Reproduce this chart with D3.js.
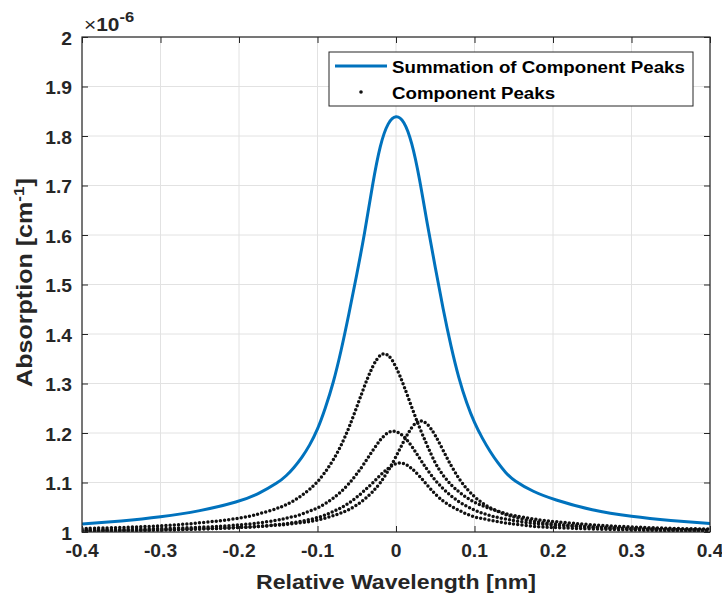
<!DOCTYPE html>
<html><head><meta charset="utf-8">
<script src="https://cdn.jsdelivr.net/npm/d3@7"></script>
<style>body{margin:0;background:#fff;}svg{display:block;}</style>
</head><body>
<svg id="chart" width="722" height="601"></svg>
<script>
// ---- data (values ×1e-6 cm^-1) ----
const wavelength = [-0.4,-0.35,-0.3,-0.25,-0.2,-0.175,-0.15,-0.14,-0.13,-0.12,-0.11,-0.1,-0.09,-0.08,-0.07,-0.06,-0.05,-0.04,-0.03,-0.02,-0.01,0,0.01,0.02,0.03,0.04,0.05,0.06,0.07,0.08,0.09,0.1,0.11,0.12,0.13,0.14,0.15,0.175,0.2,0.25,0.3,0.35,0.4];
const summation = [1.016,1.022,1.030,1.042,1.061,1.077,1.100,1.113,1.130,1.150,1.175,1.206,1.250,1.300,1.365,1.440,1.520,1.602,1.702,1.785,1.829,1.843,1.832,1.790,1.715,1.620,1.535,1.450,1.375,1.310,1.260,1.220,1.189,1.162,1.139,1.119,1.104,1.081,1.066,1.043,1.031,1.023,1.017];
const peakA = [1.007,1.009,1.012,1.018,1.027,1.036,1.048,1.055,1.063,1.074,1.086,1.101,1.121,1.145,1.174,1.210,1.252,1.296,1.335,1.361,1.361,1.335,1.296,1.252,1.210,1.174,1.138,1.114,1.095,1.081,1.069,1.060,1.053,1.047,1.042,1.037,1.033,1.026,1.021,1.014,1.010,1.007,1.006];
const peakB = [1.004,1.005,1.007,1.009,1.014,1.018,1.024,1.028,1.031,1.036,1.042,1.048,1.057,1.068,1.081,1.097,1.117,1.139,1.164,1.187,1.203,1.205,1.194,1.174,1.149,1.125,1.104,1.087,1.073,1.061,1.052,1.044,1.038,1.033,1.029,1.026,1.023,1.017,1.014,1.009,1.006,1.005,1.004];
const peakC = [1.003,1.003,1.004,1.006,1.009,1.011,1.014,1.015,1.017,1.019,1.021,1.024,1.028,1.033,1.038,1.045,1.054,1.066,1.080,1.099,1.123,1.152,1.184,1.213,1.228,1.220,1.196,1.165,1.134,1.108,1.087,1.071,1.058,1.049,1.041,1.035,1.030,1.021,1.016,1.010,1.006,1.005,1.003];
const peakD = [1.002,1.003,1.004,1.006,1.009,1.011,1.015,1.017,1.019,1.022,1.025,1.029,1.034,1.041,1.049,1.058,1.070,1.084,1.098,1.115,1.129,1.140,1.140,1.129,1.113,1.094,1.076,1.062,1.052,1.044,1.036,1.030,1.027,1.024,1.021,1.018,1.016,1.011,1.009,1.006,1.004,1.003,1.002];
const xTicks = [-0.4,-0.3,-0.2,-0.1,0,0.1,0.2,0.3,0.4];
const yTicks = [1,1.1,1.2,1.3,1.4,1.5,1.6,1.7,1.8,1.9,2];
const xTickLabels = ["-0.4","-0.3","-0.2","-0.1","0","0.1","0.2","0.3","0.4"];
const yTickLabels = ["1","1.1","1.2","1.3","1.4","1.5","1.6","1.7","1.8","1.9","2"];
const legendLabels = ["Summation of Component Peaks","Component Peaks"];

// ---- layout ----
const L = 82, R = 710, T = 37, B = 532;
const FONT = "'Liberation Sans', Arial, Helvetica, sans-serif";
const AXC = "#262626";
const SX = 1.1; // horizontal text stretch of the reference
const svg = d3.select("#chart");
const x = d3.scaleLinear().domain([-0.4, 0.4]).range([L, R]);
const y = d3.scaleLinear().domain([1, 2]).range([B, T]);

function stext(g, tx, ty, str, size, anchor, weight) {
  const t = g.append("g").attr("transform", `translate(${tx},${ty}) scale(${SX},1)`)
    .append("text").attr("x", 0).attr("y", 0)
    .attr("font-family", FONT).attr("font-size", size)
    .attr("font-weight", weight || "bold").attr("fill", AXC)
    .attr("text-anchor", anchor || "start");
  if (str !== null) t.text(str);
  return t;
}

// grid
const grid = svg.append("g");
grid.selectAll(".gx").data(xTicks).join("line")
  .attr("x1", d => x(d)).attr("x2", d => x(d)).attr("y1", T).attr("y2", B)
  .attr("stroke", "#e2e2e2").attr("stroke-width", 1);
grid.selectAll(".gy").data(yTicks).join("line")
  .attr("y1", d => y(d)).attr("y2", d => y(d)).attr("x1", L).attr("x2", R)
  .attr("stroke", "#e2e2e2").attr("stroke-width", 1);

// clip
svg.append("clipPath").attr("id", "clip").append("rect")
  .attr("x", L).attr("y", T).attr("width", R - L).attr("height", B - T);

const plot = svg.append("g").attr("clip-path", "url(#clip)");
const line = d3.line().x((d, i) => x(wavelength[i])).y(d => y(d)).curve(d3.curveBasis);

// component peaks (dotted)
[peakA, peakB, peakC, peakD].forEach(s => {
  plot.append("path").attr("d", line(s)).attr("fill", "none")
    .attr("stroke", "#111").attr("stroke-width", 3.5)
    .attr("stroke-linecap", "round").attr("stroke-dasharray", "0 4.2");
});
// summation
plot.append("path").attr("d", line(summation)).attr("fill", "none")
  .attr("stroke", "#0072BD").attr("stroke-width", 3);

// axes
const ax = svg.append("g");
ax.append("g").attr("transform", `translate(0,${B})`)
  .call(d3.axisBottom(x).tickValues(xTicks).tickSize(-6).tickFormat(""))
  .call(g => { g.select(".domain").remove(); g.selectAll("line").attr("stroke", AXC); });
ax.append("g").attr("transform", `translate(0,${T})`)
  .call(d3.axisTop(x).tickValues(xTicks).tickSize(-6).tickFormat(""))
  .call(g => { g.select(".domain").remove(); g.selectAll("line").attr("stroke", AXC); });
ax.append("g").attr("transform", `translate(${L},0)`)
  .call(d3.axisLeft(y).tickValues(yTicks).tickSize(-6).tickFormat(""))
  .call(g => { g.select(".domain").remove(); g.selectAll("line").attr("stroke", AXC); });
ax.append("g").attr("transform", `translate(${R},0)`)
  .call(d3.axisRight(y).tickValues(yTicks).tickSize(-6).tickFormat(""))
  .call(g => { g.select(".domain").remove(); g.selectAll("line").attr("stroke", AXC); });
ax.append("rect").attr("x", L).attr("y", T).attr("width", R - L).attr("height", B - T)
  .attr("fill", "none").attr("stroke", AXC).attr("stroke-width", 1.2);

// tick labels
const tl = svg.append("g");
xTicks.forEach((v, i) => stext(tl, x(v), 557, xTickLabels[i], 17.5, "middle"));
yTicks.forEach((v, i) => stext(tl, 72, y(v) + 7.5, yTickLabels[i], 17.5, "end"));

// exponent
const ex = stext(svg, 84, 31, null, 19, "start", "normal");
ex.append("tspan").text("\u00d7");
ex.append("tspan").attr("font-weight", "bold").text("10");
ex.append("tspan").attr("dy", -9).attr("font-size", 15).attr("font-weight", "bold").text("-6");

// axis labels
stext(svg, (L + R) / 2, 589, "Relative Wavelength [nm]", 21, "middle");
const yl = svg.append("text").attr("transform", `translate(32,${(T + B) / 2 - 2}) rotate(-90) scale(1.14,1)`)
  .attr("font-family", FONT).attr("font-size", 22).attr("font-weight", "bold")
  .attr("fill", AXC).attr("text-anchor", "middle");
yl.append("tspan").text("Absorption [cm");
yl.append("tspan").attr("dy", -8).attr("font-size", 15).text("-1");
yl.append("tspan").attr("dy", 8).text("]");

// legend
const lg = svg.append("g");
lg.append("rect").attr("x", 329).attr("y", 52).attr("width", 364).attr("height", 54)
  .attr("fill", "#fff").attr("stroke", AXC).attr("stroke-width", 1);
lg.append("line").attr("x1", 335).attr("x2", 387).attr("y1", 66).attr("y2", 66)
  .attr("stroke", "#0072BD").attr("stroke-width", 3);
lg.append("circle").attr("cx", 361).attr("cy", 92).attr("r", 1.8).attr("fill", "#111");
stext(lg, 392, 73, legendLabels[0], 17, "start").attr("fill", "#000");
stext(lg, 392, 99, legendLabels[1], 17, "start").attr("fill", "#000");
</script>
</body></html>
